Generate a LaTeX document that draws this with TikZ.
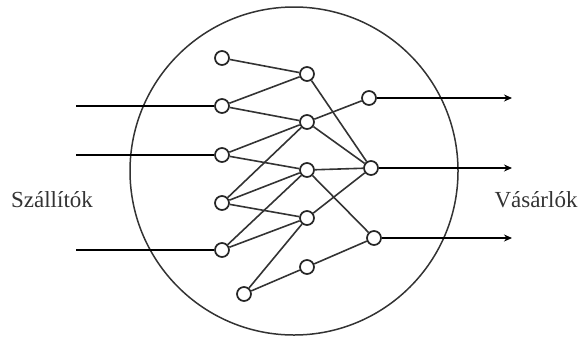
\documentclass[tikz,border=0pt]{standalone}
\usepackage{fontspec}
\setmainfont{Liberation Serif}
\usetikzlibrary{arrows.meta}

\begin{document}
\begin{tikzpicture}[x=0.5pt, y=-0.5pt,
        unit/.style={circle, draw=black!85, fill=white, line width=0.85pt,
        minimum size=7pt, inner sep=0pt},
        link/.style={line width=0.8pt, black!80},
        flow/.style={-{Stealth[length=4pt, width=3.5pt]}, line width=0.9pt},
        side_label/.style={font=\fontsize{11.5}{13}\selectfont, text=black!80}
    ]
    \useasboundingbox (0,0) rectangle (581,338);

    % boundary
    \draw[line width=0.75pt, black!80] (294,171) circle[radius=82pt];

    % input column
    \node[unit] (l1) at (222, 58) {};
    \node[unit] (l2) at (222,106) {};
    \node[unit] (l3) at (222,155) {};
    \node[unit] (l4) at (222,203) {};
    \node[unit] (l5) at (222,250) {};
    \node[unit] (l6) at (244,294) {};

    % middle column
    \node[unit] (m1) at (307, 74) {};
    \node[unit] (m2) at (307,122) {};
    \node[unit] (m3) at (307,170) {};
    \node[unit] (m4) at (307,218) {};
    \node[unit] (m5) at (307,267) {};

    % output column
    \node[unit] (r1) at (369, 98) {};
    \node[unit] (r2) at (371,168) {};
    \node[unit] (r3) at (374,238) {};

    % links
    \foreach \a/\b in {l1/m1, l2/m1, l2/m2, l3/m2, l3/m3, l4/m2, l4/m3, l4/m4,
                       l5/m3, l5/m4, l6/m4, l6/m5,
                       m1/r2, m2/r1, m2/r2, m3/r2, m3/r3, m4/r2, m5/r3}
        \draw[link] (\a) -- (\b);

    % suppliers
    \coordinate (in1) at (76,106);
    \coordinate (in2) at (76,155);
    \coordinate (in3) at (76,250);
    \draw[line width=0.9pt] (in1) -- (l2);
    \draw[line width=0.9pt] (in2) -- (l3);
    \draw[line width=0.9pt] (in3) -- (l5);

    % buyers
    \coordinate (out1) at (512, 98);
    \coordinate (out2) at (512,168);
    \coordinate (out3) at (512,238);
    \draw[flow] (r1) -- (out1);
    \draw[flow] (r2) -- (out2);
    \draw[flow] (r3) -- (out3);

    \node[side_label] (supp) at (52,200) {Szállítók};
    \node[side_label] (buy) at (536,200) {Vásárlók};

\end{tikzpicture}
\end{document}
